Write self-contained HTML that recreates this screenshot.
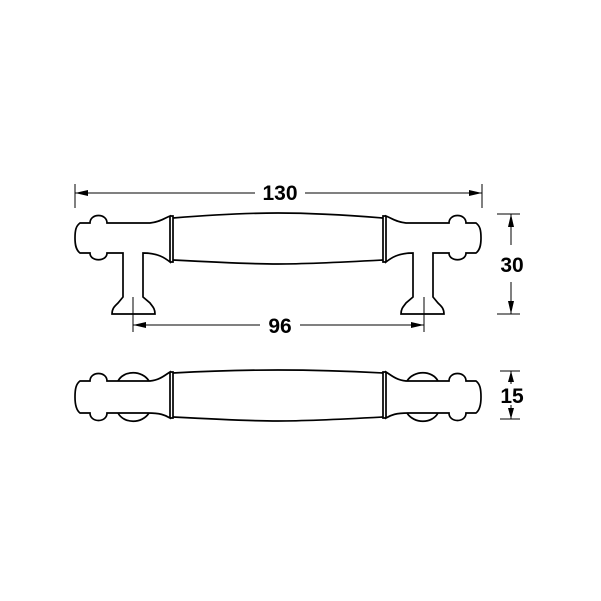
<!DOCTYPE html>
<html><head><style>body{margin:0;background:#fff}svg{display:block}</style></head><body>
<svg width="601" height="601" viewBox="0 0 601 601" xmlns="http://www.w3.org/2000/svg">
<defs>
<g id="topHalf" fill="none" stroke="#000" stroke-width="1.7">
  <path d="M107,223 L150,223 C160,222 165,218 170,216 L170,262 C165,258 158,253 143,253 L143,297 L150,303 C152,306 155,308 155,314 L112,314 C112,308 115,306 118,303 L123,297 L123,253 L107,253 C107,262 90,262 90,253 L80,253 C76,250 75,245 75,238 C75,230 76,226 80,223 L90,223 C90,213 107,213 107,223 Z"/>
  <path d="M170,216 L173,216 L173,262 L170,262"/>
  <path d="M173,218 C210,215 250,213 278,213"/>
  <path d="M173,260 C210,262 250,264 278,264"/>
</g>
<g id="botHalf" fill="none" stroke="#000" stroke-width="1.7">
  <path d="M107,381 L150,381 C160,380 165,375 170,372 L170,418 C165,415 160,413 148,413 L107,413 C107,423 90,423 90,413 L80,413 C76,410 75,404 75,397 C75,389 76,384 80,381 L90,381 C90,371 107,371 107,381 Z"/>
  <path d="M118,381 C124,370 142,370 149,381"/>
  <path d="M118,413 C124,424 142,424 149,413"/>
  <path d="M170,372 L173,372 L173,418 L170,418"/>
  <path d="M173,373 C210,371 250,370 278,370"/>
  <path d="M173,417 C210,419 250,421 278,421"/>
</g>
</defs>
<use href="#topHalf"/>
<use href="#topHalf" transform="translate(556,0) scale(-1,1)"/>
<use href="#botHalf"/>
<use href="#botHalf" transform="translate(556,0) scale(-1,1)"/>
<g stroke="#000" stroke-width="1" fill="#000">
  <line x1="75" y1="184" x2="75" y2="208"/>
  <line x1="482" y1="184" x2="482" y2="208"/>
  <line x1="75" y1="193" x2="255" y2="193"/>
  <line x1="305" y1="193" x2="482" y2="193"/>
  <polygon points="75,193 88,190 88,196" stroke="none"/>
  <polygon points="482,193 469,190 469,196" stroke="none"/>
  <line x1="133" y1="297" x2="133" y2="332"/>
  <line x1="424" y1="297" x2="424" y2="332"/>
  <line x1="133" y1="325" x2="260" y2="325"/>
  <line x1="300" y1="325" x2="424" y2="325"/>
  <polygon points="133,325 146,322 146,328" stroke="none"/>
  <polygon points="424,325 411,322 411,328" stroke="none"/>
  <line x1="497" y1="214" x2="520" y2="214"/>
  <line x1="497" y1="314" x2="520" y2="314"/>
  <line x1="511" y1="214" x2="511" y2="245"/>
  <line x1="511" y1="282" x2="511" y2="314"/>
  <polygon points="511,214 508,227 514,227" stroke="none"/>
  <polygon points="511,314 508,301 514,301" stroke="none"/>
  <line x1="500" y1="371" x2="520" y2="371"/>
  <line x1="500" y1="419" x2="520" y2="419"/>
  <line x1="511" y1="371" x2="511" y2="419"/>
  <polygon points="511,371 508,382 514,382" stroke="none"/>
  <polygon points="511,419 508,408 514,408" stroke="none"/>
</g>
<g font-family="Liberation Sans, sans-serif" font-weight="bold" font-size="21" text-anchor="middle">
  <text x="280" y="200">130</text>
  <text x="280" y="333">96</text>
  <text x="512" y="272">30</text>
  <rect x="500" y="384" width="25" height="21" fill="#fff"/>
  <text x="512" y="403">15</text>
</g>
</svg>
</body></html>
